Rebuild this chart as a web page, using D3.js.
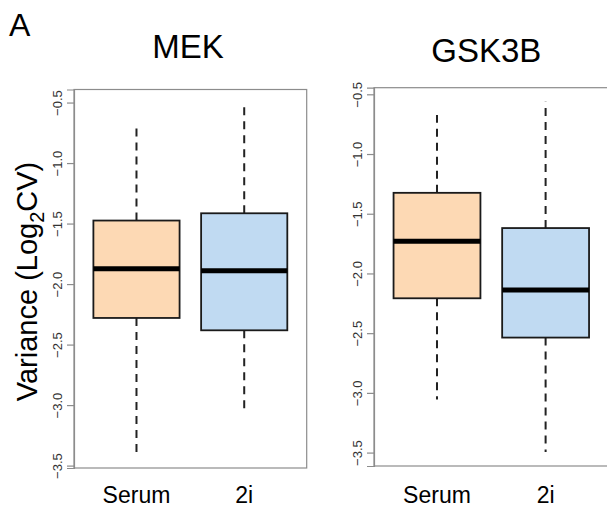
<!DOCTYPE html>
<html>
<head>
<meta charset="utf-8">
<script src="https://cdn.jsdelivr.net/npm/d3@7"></script>
<style>
  body { margin: 0; background: #fff; }
  text { font-family: "Liberation Sans", Arial, Helvetica, sans-serif; }
</style>
</head>
<body>
<script>
// data
var groups = ["Serum", "2i"];
var panelTitles = ["MEK", "GSK3B"];
var fills = ["#fdd9b4", "#c0daf2"];
var yTicks = [-0.5, -1.0, -1.5, -2.0, -2.5, -3.0, -3.5];

var mekLow  = [-3.404, -3.075];
var mekQ1   = [-2.280, -2.382];
var mekMed  = [-1.873, -1.889];
var mekQ3   = [-1.475, -1.415];
var mekHigh = [-0.673, -0.508];

var gskLow  = [-3.056, -3.495];
var gskQ1   = [-2.208, -2.537];
var gskMed  = [-1.731, -2.139];
var gskQ3   = [-1.325, -1.620];
var gskHigh = [-0.673, -0.562];

var W = 607, H = 517;

var svg = d3.select("body").append("svg")
  .attr("width", W)
  .attr("height", H);

// one box per group, built from the arrays above
function makeStats(low, q1, med, q3, high) {
  return groups.map(function(g, i) {
    return { group: g, i: i, low: low[i], q1: q1[i], med: med[i], q3: q3[i], high: high[i] };
  });
}

var panels = [
  { title: panelTitles[0], stats: makeStats(mekLow, mekQ1, mekMed, mekQ3, mekHigh),
    left: 74, right: 306.7, top: 89.5, bottom: 468, titleX: 188, titleY: 58.3 },
  { title: panelTitles[1], stats: makeStats(gskLow, gskQ1, gskMed, gskQ3, gskHigh),
    left: 374, right: 608.6, top: 87.7, bottom: 466, titleX: 486.3, titleY: 62.3 }
];

panels.forEach(function(p) {
  var lo = d3.min(p.stats, function(d) { return d.low; });
  var hi = d3.max(p.stats, function(d) { return d.high; });
  var pad = (hi - lo) * 0.04;

  var y = d3.scaleLinear()
    .domain([lo - pad, hi + pad])
    .range([p.bottom, p.top]);

  var x = d3.scaleLinear()
    .domain([0.42, 2.58])
    .range([p.left, p.right]);

  var boxW = x(1.8) - x(1.0);

  var g = svg.append("g");

  // frame
  g.append("rect")
    .attr("x", p.left)
    .attr("y", p.top)
    .attr("width", p.right - p.left)
    .attr("height", p.bottom - p.top)
    .attr("fill", "none")
    .attr("stroke", "#8c8c8c")
    .attr("stroke-width", 1.2);

  // y axis
  var ax = g.append("g")
    .attr("transform", "translate(" + p.left + ",0)")
    .call(d3.axisLeft(y).tickValues(yTicks).tickSize(7).tickFormat(d3.format(".1f")));
  ax.select(".domain").attr("stroke", "#8c8c8c").attr("stroke-width", 1.2);
  ax.selectAll(".tick line").attr("stroke", "#8c8c8c").attr("stroke-width", 1.2);
  ax.selectAll(".tick text")
    .attr("x", 0)
    .attr("y", -12.3)
    .attr("dy", 0)
    .attr("text-anchor", "middle")
    .attr("transform", "rotate(-90)")
    .attr("fill", "#333")
    .style("font-size", "13px")
    .style("font-family", "'Liberation Sans', Arial, sans-serif");

  // whiskers
  var boxes = g.selectAll(".box")
    .data(p.stats)
    .enter()
    .append("g")
    .attr("class", "box");

  boxes.append("line")
    .attr("x1", function(d) { return x(d.i + 1); })
    .attr("x2", function(d) { return x(d.i + 1); })
    .attr("y1", function(d) { return y(d.q3); })
    .attr("y2", function(d) { return y(d.high); })
    .attr("stroke", "#222")
    .attr("stroke-width", 2)
    .attr("stroke-dasharray", "8,6");

  boxes.append("line")
    .attr("x1", function(d) { return x(d.i + 1); })
    .attr("x2", function(d) { return x(d.i + 1); })
    .attr("y1", function(d) { return y(d.q1); })
    .attr("y2", function(d) { return y(d.low); })
    .attr("stroke", "#222")
    .attr("stroke-width", 2)
    .attr("stroke-dasharray", "8,6");

  boxes.append("rect")
    .attr("x", function(d) { return x(d.i + 1) - boxW / 2; })
    .attr("y", function(d) { return y(d.q3); })
    .attr("width", boxW)
    .attr("height", function(d) { return y(d.q1) - y(d.q3); })
    .attr("fill", function(d) { return fills[d.i]; })
    .attr("stroke", "#1a1a1a")
    .attr("stroke-width", 1.8);

  boxes.append("line")
    .attr("x1", function(d) { return x(d.i + 1) - boxW / 2; })
    .attr("x2", function(d) { return x(d.i + 1) + boxW / 2; })
    .attr("y1", function(d) { return y(d.med); })
    .attr("y2", function(d) { return y(d.med); })
    .attr("stroke", "#000")
    .attr("stroke-width", 5);

  // group labels
  g.selectAll(".xlab")
    .data(p.stats)
    .enter()
    .append("text")
    .attr("x", function(d) { return x(d.i + 1); })
    .attr("y", 502.7)
    .attr("text-anchor", "middle")
    .style("font-size", "23px")
    .text(function(d) { return d.group; });

  // title
  g.append("text")
    .attr("x", p.titleX)
    .attr("y", p.titleY)
    .attr("text-anchor", "middle")
    .style("font-size", "33px")
    .text(p.title);
});

// y label with subscript
var yl = svg.append("text")
  .attr("transform", "translate(36.5,281.5) rotate(-90)")
  .attr("text-anchor", "middle")
  .style("font-size", "29px");
yl.append("tspan").text("Variance (Log");
yl.append("tspan").attr("dy", 7).style("font-size", "20px").text("2");
yl.append("tspan").attr("dy", -7).text("CV)");

// panel letter
svg.append("text")
  .attr("x", 9)
  .attr("y", 36)
  .style("font-size", "32px")
  .text("A");
</script>
</body>
</html>
